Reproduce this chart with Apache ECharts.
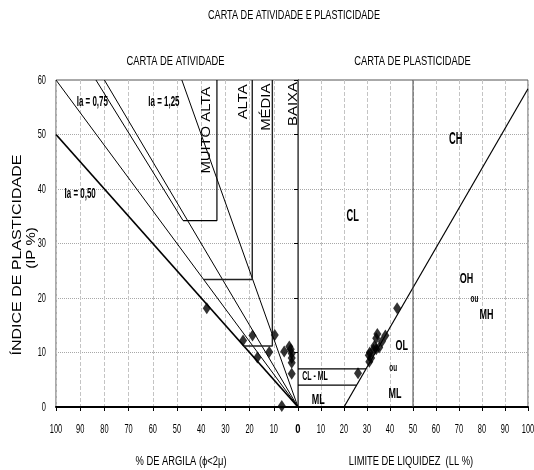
<!DOCTYPE html>
<html><head><meta charset="utf-8">
<script src="https://cdn.jsdelivr.net/npm/echarts@6/dist/echarts.min.js"></script>
<style>html,body{margin:0;padding:0;background:#fff}#c{width:534px;height:470px}</style>
</head><body><div id="c"></div>
<script>
const SANS = "'Liberation Sans',Arial,Helvetica,sans-serif";

// ---- axes ----
const xMin = 0, xMax = 100, xStep = 10;
const yMin = 0, yMax = 60, yStep = 10;
const xTicks = [0, 10, 20, 30, 40, 50, 60, 70, 80, 90, 100];
const yTicks = [0, 10, 20, 30, 40, 50, 60];

// ---- activity chart (clay %, PI) ----
const clayPct = [37.7, 22.7, 18.8, 16.8, 11.9, 9.6, 5.7, 3.6, 3.0, 2.6, 2.6, 2.6, 2.6, 6.7];
const clayPI  = [18.1, 12.2, 13.1,  9.1, 10.1, 13.2, 10.2, 11.1, 10.6, 9.8, 9.0, 8.1, 6.1, 0.2];

// activity lines (clay %, PI)
const lineIa050 = [[100, 50], [0, 0]];
const lineIa060 = [[100, 60], [0, 0]];
const lineIa072 = [[83.5, 60], [47.5, 34.2]];
const lineIa075 = [[80, 60], [0, 0]];
const lineIa125 = [[48, 60], [0, 0]];
// zone boundaries
const zoneMuitoAlta = [[47.5, 34.2], [33.5, 34.2], [33.5, 60]];
const zoneAlta      = [[39, 23.4], [18.9, 23.4], [18.9, 60]];
const zoneMedia     = [[22.4, 11.2], [10.6, 11.2], [10.6, 60]];

const actLabels   = ['Ia = 0,75', 'Ia = 1,25', 'Ia = 0,50'];
const actLabelPos = [[85, 56], [55.4, 56], [90, 39.2]];
const zoneLabels   = ['MUITO ALTA', 'ALTA', 'MÉDIA', 'BAIXA'];
const zoneLabelPos = [[37.7, 50.8], [22.3, 56], [12.9, 55], [1.9, 55.6]];

// ---- plasticity chart (LL %, PI) ----
const liquidLimit = [43.1, 38.0, 34.5, 34.0, 36.5, 35.3, 34.0, 32.8, 31.2, 30.8, 31.8, 31.0, 26.1, 33.2];
const plastIndex  = [18.1, 13.1, 13.4, 12.6, 12.0, 10.9, 10.6, 10.5, 10.0,  9.5,  9.0,  8.3,  6.2, 11.2];

const aLine    = [[20, 0], [100, 58.4]];
const llDivide = [[50, 0], [50, 60]];
const clmlTop  = [[0, 7], [29.6, 7]];
const clmlBot  = [[0, 4], [25.5, 4]];

const plasLabels   = ['CL', 'CH', 'OH', 'ou', 'MH', 'OL', 'ou', 'ML', 'CL - ML', 'ML'];
const plasLabelPos = [[23.8, 34.9], [68.6, 49], [73.3, 23.6], [76.7, 19.9], [82, 16.9],
                      [45.1, 11.2], [41.4, 7.1], [42.2, 2.5], [7.4, 5.6], [8.8, 1.3]];

// ---- texts ----
const mainTitle  = 'CARTA DE ATIVIDADE E PLASTICIDADE';
const leftTitle  = 'CARTA DE ATIVIDADE';
const rightTitle = 'CARTA DE PLASTICIDADE';
const leftXName  = '% DE ARGILA (ϕ<2μ)';
const rightXName = 'LIMITE DE LIQUIDEZ  (LL %)';
const yName1 = 'ÍNDICE DE PLASTICIDADE';
const yName2 = '(IP %)';

// ---- build ----
const chart = echarts.init(document.getElementById('c'), null, {renderer: 'canvas'});

function lineSeries(pts, gi, width, color) {
  return {
    type: 'line', xAxisIndex: gi, yAxisIndex: gi, data: pts, symbol: 'none',
    lineStyle: {color: color || '#000', width: width || 1}, silent: true, animation: false, z: 3
  };
}

const axisX = (gi, inverse) => ({
  type: 'value', gridIndex: gi, min: xMin, max: xMax, interval: xStep, inverse: inverse,
  axisLine: {show: true, onZero: false, lineStyle: {color: '#000', width: 2}},
  axisTick: {show: true, length: 4, lineStyle: {color: '#000'}},
  axisLabel: {show: false},
  splitLine: {show: true, lineStyle: {color: '#c4c4c4', type: 'dashed', width: 1}}
});

const option = {
  backgroundColor: '#fff',
  animation: false,
  grid: [
    {left: 56, right: 236, top: 80, bottom: 63, show: true, borderColor: '#555', borderWidth: 1},
    {left: 298, right: 6, top: 80, bottom: 63, show: true, borderColor: '#555', borderWidth: 1}
  ],
  xAxis: [axisX(0, true), axisX(1, false)],
  yAxis: [
    {type: 'value', gridIndex: 0, min: yMin, max: yMax, interval: yStep,
      axisLine: {show: true, lineStyle: {color: '#000', width: 1}},
      axisTick: {show: true, length: 4, lineStyle: {color: '#000'}},
      axisLabel: {show: false},
      splitLine: {show: true, lineStyle: {color: '#a8a8a8', type: 'dotted', width: 1}}},
    {type: 'value', gridIndex: 1, min: yMin, max: yMax, interval: yStep,
      axisLine: {show: true, lineStyle: {color: '#555', width: 1}},
      axisTick: {show: false}, axisLabel: {show: false},
      splitLine: {show: true, lineStyle: {color: '#a8a8a8', type: 'dotted', width: 1}}}
  ],
  series: [
    lineSeries(lineIa050, 0, 1.7),
    lineSeries(lineIa060, 0, 1),
    lineSeries(lineIa072, 0, 1),
    lineSeries(lineIa075, 0, 1),
    lineSeries(lineIa125, 0, 1),
    lineSeries(zoneMuitoAlta, 0, 1.2),
    lineSeries(zoneAlta, 0, 1.4, '#222'),
    lineSeries(zoneMedia, 0, 1.4, '#222'),
    lineSeries(aLine, 1, 1.2),
    lineSeries(llDivide, 1, 1, '#444'),
    lineSeries(clmlTop, 1, 1.2),
    lineSeries(clmlBot, 1, 1.2),
    {type: 'scatter', xAxisIndex: 0, yAxisIndex: 0, symbol: 'diamond', symbolSize: [8, 12],
      itemStyle: {color: '#000'}, z: 6, animation: false,
      data: clayPct.map((c, i) => [c, clayPI[i]])},
    {type: 'scatter', xAxisIndex: 1, yAxisIndex: 1, symbol: 'diamond', symbolSize: [8, 12],
      itemStyle: {color: '#000'}, z: 6, animation: false,
      data: liquidLimit.map((c, i) => [c, plastIndex[i]])}
  ]
};
chart.setOption(option);

// ---- text drawn as graphic elements (condensed / spaced like the original) ----
function txt(text, x, y, size, opts) {
  opts = opts || {};
  return {
    type: 'text', x: x, y: y, z: 100, silent: true,
    rotation: opts.rot || 0,
    scaleX: opts.sx || 1, scaleY: 1,
    style: {
      text: text, fill: '#000',
      font: (opts.bold ? 'bold ' : '') + size + 'px ' + SANS,
      align: opts.align || 'center', verticalAlign: 'middle',
      textAlign: opts.align || 'center', textVerticalAlign: 'middle'
    }
  };
}
const els = [];
const px = (gi, p) => chart.convertToPixel({gridIndex: gi}, p);

// titles
els.push(txt(mainTitle, 294, 15, 13, {sx: 0.7}));
els.push(txt(leftTitle, 175.5, 61, 13, {sx: 0.72}));
els.push(txt(rightTitle, 412.5, 61, 13, {sx: 0.72}));
// axis names
els.push(txt(leftXName, 181, 462, 12, {sx: 0.78}));
els.push(txt(rightXName, 411, 462, 12, {sx: 0.78}));
els.push(txt(yName1, 18, 255, 12.5, {rot: Math.PI / 2, sx: 1.28}));
els.push(txt(yName2, 32, 248, 12.5, {rot: Math.PI / 2, sx: 1.2}));

// tick labels
const xLabelY = px(0, [0, 0])[1] + 22;
xTicks.forEach(v => {
  const p0 = px(0, [v, 0]);
  els.push(txt(String(v), p0[0], xLabelY, 13.5, {sx: v === 0 ? 0.7 : 0.55, bold: v === 0}));
  if (v !== 0) {
    const p1 = px(1, [v, 0]);
    els.push(txt(String(v), p1[0], xLabelY, 13.5, {sx: 0.55}));
  }
});
yTicks.forEach(v => {
  const p = px(0, [100, v]);
  els.push(txt(String(v), p[0] - 10, p[1], 13.5, {sx: 0.55, align: 'right'}));
});

// in-plot labels
actLabels.forEach((t, i) => {
  const p = px(0, actLabelPos[i]);
  els.push(txt(t, p[0], p[1], 15, {bold: true, sx: 0.53}));
});
zoneLabels.forEach((t, i) => {
  const p = px(0, zoneLabelPos[i]);
  els.push(txt(t, p[0], p[1], 12, {rot: Math.PI / 2, sx: 1.24}));
});
plasLabels.forEach((t, i) => {
  const p = px(1, plasLabelPos[i]);
  const size = t === 'ou' ? 11 : (t === 'CL - ML' ? 13.5 : (t === 'CL' || t === 'CH' ? 16 : 15.5));
  els.push(txt(t, p[0], p[1], size, {bold: true, sx: t === 'CL - ML' ? 0.52 : 0.58}));
});

chart.setOption({graphic: {elements: els}});
</script></body></html>
